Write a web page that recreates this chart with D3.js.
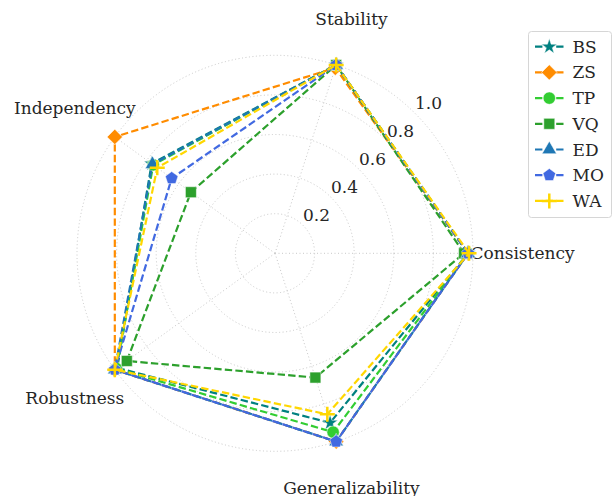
<!DOCTYPE html>
<html><head><meta charset="utf-8">
<script src="https://cdn.jsdelivr.net/npm/d3@7"></script>
<style>html,body{margin:0;padding:0;background:#fff;}svg{display:block;font-family:"DejaVu Serif",serif;}</style>
</head><body><svg id="c" width="613" height="496"></svg>
<script>
const categories = ["Consistency","Stability","Independency","Robustness","Generalizability"];
const seriesNames = ["BS","ZS","TP","VQ","ED","MO","WA"];
const BS = [0.975, 1.0, 0.77, 0.985, 0.90];
const ZS = [0.975, 0.985, 1.0, 1.0, 1.0];
const TP = [0.975, 1.0, 0.76, 0.99, 0.95];
const VQ = [0.955, 1.0, 0.525, 0.925, 0.66];
const ED = [0.975, 1.0, 0.765, 1.0, 1.0];
const MO = [0.975, 1.0, 0.645, 1.0, 1.0];
const WA = [0.98, 1.0, 0.735, 1.0, 0.855];
const ringTicks = [0.2, 0.4, 0.6, 0.8, 1.0];
const ringLabels = ["0.2","0.4","0.6","0.8","1.0"];

const colors = {BS:"#008080",ZS:"#ff8c00",TP:"#32cd32",VQ:"#2ca02c",ED:"#1f77b4",MO:"#4169e1",WA:"#ffd700"};
const values = {BS,ZS,TP,VQ,ED,MO,WA};

const svg = d3.select("#c");
const cx = 275, cy = 253.3, R = 198;
const g = svg.append("g").attr("transform",`translate(${cx},${cy})`);
const rScale = d3.scaleLinear().domain([0,1]).range([0,R]);
const aScale = d3.scaleLinear().domain([0,categories.length]).range([Math.PI/2, Math.PI/2 - 2*Math.PI]);
const px = (i,v)=> rScale(v)*Math.sin(aScale(i));
const py = (i,v)=> -rScale(v)*Math.cos(aScale(i));

const gridColor = "#c8c8c8";
g.selectAll("circle.ring").data(ringTicks).join("circle")
  .attr("r", d=>rScale(d)).attr("fill","none").attr("stroke",gridColor)
  .attr("stroke-width",1).attr("stroke-dasharray","1,2.5");
g.selectAll("line.spoke").data(categories).join("line")
  .attr("x1",0).attr("y1",0).attr("x2",(d,i)=>px(i,1)).attr("y2",(d,i)=>py(i,1))
  .attr("stroke",gridColor).attr("stroke-width",1).attr("stroke-dasharray","1,2.5");

const fs = 17;
g.selectAll("text.rl").data(ringTicks).join("text")
  .attr("x", d=>rScale(d)*Math.cos(Math.PI/4))
  .attr("y", d=>-rScale(d)*Math.sin(Math.PI/4) - 4)
  .attr("font-size",fs).attr("fill","#262626").text((d,i)=>ringLabels[i]);

g.selectAll("text.cl").data(categories).join("text")
  .attr("x",(d,i)=>px(i,1.25)).attr("y",(d,i)=>py(i,1.245))
  .attr("text-anchor","middle").attr("dominant-baseline","central")
  .attr("font-size",fs).attr("fill","#262626").text(d=>d);

const pentagon = {draw(ctx,size){const r=Math.sqrt(size/2.378);for(let k=0;k<5;k++){const a=-Math.PI/2+k*2*Math.PI/5;const x=r*Math.cos(a),y=r*Math.sin(a);k?ctx.lineTo(x,y):ctx.moveTo(x,y);}ctx.closePath();}};
const markers = {
  BS:{type:d3.symbolStar,size:75,rot:0},
  ZS:{type:d3.symbolSquare,size:118,rot:45},
  TP:{type:d3.symbolCircle,size:120,rot:0},
  VQ:{type:d3.symbolSquare,size:120,rot:0},
  ED:{type:d3.symbolTriangle,size:90,rot:0},
  MO:{type:pentagon,size:105,rot:0},
  WA:{plus:true}
};
function drawMarker(sel,name){
  const m = markers[name];
  if(m.plus){
    sel.append("path").attr("d","M-7.5,0H7.5M0,-7.5V7.5").attr("stroke",colors[name]).attr("stroke-width",2.5).attr("fill","none");
  } else {
    sel.append("path").attr("d",d3.symbol().type(m.type).size(m.size)()).attr("transform",`rotate(${m.rot})`)
      .attr("fill",colors[name]).attr("stroke","#fff").attr("stroke-width",0.5);
  }
}

const line = d3.lineRadial().angle((d,i)=>aScale(i)).radius(d=>rScale(d)).curve(d3.curveLinearClosed);
seriesNames.forEach(name=>{
  const sg = g.append("g");
  sg.append("path").attr("d",line(values[name])).attr("fill","none").attr("stroke",colors[name])
    .attr("stroke-width",2.2).attr("stroke-dasharray","7.4,3.2");
  values[name].forEach((v,i)=>{
    const mg = sg.append("g").attr("transform",`translate(${px(i,v)},${py(i,v)})`);
    drawMarker(mg,name);
  });
});

const lg = svg.append("g");
lg.append("rect").attr("x",528.5).attr("y",31.5).attr("width",83).attr("height",186).attr("rx",3)
  .attr("fill","#fff").attr("fill-opacity",0.8).attr("stroke","#d6d6d6").attr("stroke-width",1);
seriesNames.forEach((name,k)=>{
  const y = 46.7 + k*25.7;
  lg.append("line").attr("x1",535).attr("x2",563.5).attr("y1",y).attr("y2",y)
    .attr("stroke",colors[name]).attr("stroke-width",2.2).attr("stroke-dasharray","7.4,3.2");
  const mg = lg.append("g").attr("transform",`translate(549.3,${y})`);
  drawMarker(mg,name);
  lg.append("text").attr("x",572.5).attr("y",y).attr("dominant-baseline","central")
    .attr("font-size",fs).attr("fill","#262626").text(name);
});
</script></body></html>
